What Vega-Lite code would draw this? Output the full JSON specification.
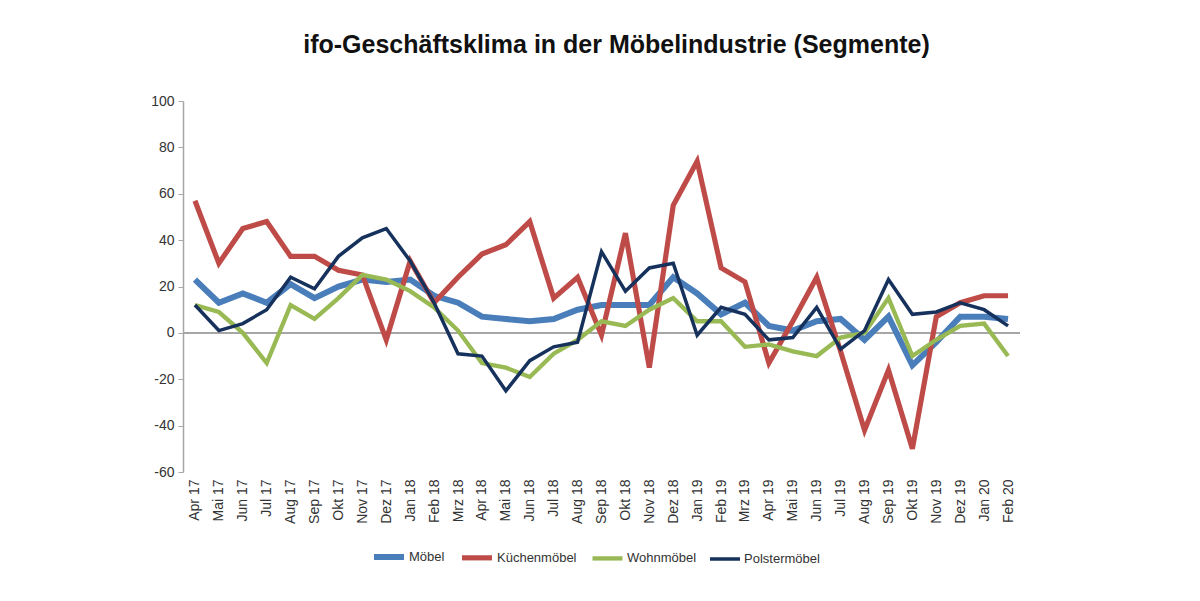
{
  "$schema": "https://vega.github.io/schema/vega-lite/v6.json",
  "width": 837,
  "height": 371,
  "autosize": "none",
  "padding": {"left": 183, "top": 101, "right": 180, "bottom": 129},
  "background": "white",
  "title": {
    "text": "ifo-Geschäftsklima in der Möbelindustrie (Segmente)",
    "font": "Liberation Sans",
    "fontSize": 25,
    "fontWeight": "bold",
    "color": "#111111",
    "anchor": "middle",
    "dx": 15,
    "offset": 36
  },
  "config": {
    "view": {"stroke": null},
    "font": "Liberation Sans"
  },
  "data": {
    "values": [
      {"m": "Apr 17", "Möbel": 23, "Küchenmöbel": 57, "Wohnmöbel": 12, "Polstermöbel": 12},
      {"m": "Mai 17", "Möbel": 13, "Küchenmöbel": 30, "Wohnmöbel": 9, "Polstermöbel": 1},
      {"m": "Jun 17", "Möbel": 17, "Küchenmöbel": 45, "Wohnmöbel": 0, "Polstermöbel": 4},
      {"m": "Jul 17", "Möbel": 13, "Küchenmöbel": 48, "Wohnmöbel": -13, "Polstermöbel": 10},
      {"m": "Aug 17", "Möbel": 21, "Küchenmöbel": 33, "Wohnmöbel": 12, "Polstermöbel": 24},
      {"m": "Sep 17", "Möbel": 15, "Küchenmöbel": 33, "Wohnmöbel": 6, "Polstermöbel": 19},
      {"m": "Okt 17", "Möbel": 20, "Küchenmöbel": 27, "Wohnmöbel": 15, "Polstermöbel": 33},
      {"m": "Nov 17", "Möbel": 23, "Küchenmöbel": 25, "Wohnmöbel": 25, "Polstermöbel": 41},
      {"m": "Dez 17", "Möbel": 22, "Küchenmöbel": -3, "Wohnmöbel": 23, "Polstermöbel": 45},
      {"m": "Jan 18", "Möbel": 23, "Küchenmöbel": 31, "Wohnmöbel": 18, "Polstermöbel": 31},
      {"m": "Feb 18", "Möbel": 16, "Küchenmöbel": 13, "Wohnmöbel": 11, "Polstermöbel": 13},
      {"m": "Mrz 18", "Möbel": 13, "Küchenmöbel": 24, "Wohnmöbel": 1, "Polstermöbel": -9},
      {"m": "Apr 18", "Möbel": 7, "Küchenmöbel": 34, "Wohnmöbel": -13, "Polstermöbel": -10},
      {"m": "Mai 18", "Möbel": 6, "Küchenmöbel": 38, "Wohnmöbel": -15, "Polstermöbel": -25},
      {"m": "Jun 18", "Möbel": 5, "Küchenmöbel": 48, "Wohnmöbel": -19, "Polstermöbel": -12},
      {"m": "Jul 18", "Möbel": 6, "Küchenmöbel": 15, "Wohnmöbel": -9, "Polstermöbel": -6},
      {"m": "Aug 18", "Möbel": 10, "Küchenmöbel": 24, "Wohnmöbel": -3, "Polstermöbel": -4},
      {"m": "Sep 18", "Möbel": 12, "Küchenmöbel": -1, "Wohnmöbel": 5, "Polstermöbel": 35},
      {"m": "Okt 18", "Möbel": 12, "Küchenmöbel": 43, "Wohnmöbel": 3, "Polstermöbel": 18},
      {"m": "Nov 18", "Möbel": 12, "Küchenmöbel": -15, "Wohnmöbel": 10, "Polstermöbel": 28},
      {"m": "Dez 18", "Möbel": 24, "Küchenmöbel": 55, "Wohnmöbel": 15, "Polstermöbel": 30},
      {"m": "Jan 19", "Möbel": 17, "Küchenmöbel": 74, "Wohnmöbel": 5, "Polstermöbel": -1},
      {"m": "Feb 19", "Möbel": 8, "Küchenmöbel": 28, "Wohnmöbel": 5, "Polstermöbel": 11},
      {"m": "Mrz 19", "Möbel": 13, "Küchenmöbel": 22, "Wohnmöbel": -6, "Polstermöbel": 8},
      {"m": "Apr 19", "Möbel": 3, "Küchenmöbel": -13, "Wohnmöbel": -5, "Polstermöbel": -3},
      {"m": "Mai 19", "Möbel": 1, "Küchenmöbel": 5, "Wohnmöbel": -8, "Polstermöbel": -2},
      {"m": "Jun 19", "Möbel": 5, "Küchenmöbel": 24, "Wohnmöbel": -10, "Polstermöbel": 11},
      {"m": "Jul 19", "Möbel": 6, "Küchenmöbel": -8, "Wohnmöbel": -2, "Polstermöbel": -7},
      {"m": "Aug 19", "Möbel": -3, "Küchenmöbel": -42, "Wohnmöbel": 0, "Polstermöbel": 1},
      {"m": "Sep 19", "Möbel": 7, "Küchenmöbel": -16, "Wohnmöbel": 15, "Polstermöbel": 23},
      {"m": "Okt 19", "Möbel": -14, "Küchenmöbel": -50, "Wohnmöbel": -10, "Polstermöbel": 8},
      {"m": "Nov 19", "Möbel": -4, "Küchenmöbel": 7, "Wohnmöbel": -3, "Polstermöbel": 9},
      {"m": "Dez 19", "Möbel": 7, "Küchenmöbel": 13, "Wohnmöbel": 3, "Polstermöbel": 13},
      {"m": "Jan 20", "Möbel": 7, "Küchenmöbel": 16, "Wohnmöbel": 4, "Polstermöbel": 10},
      {"m": "Feb 20", "Möbel": 6, "Küchenmöbel": 16, "Wohnmöbel": -10, "Polstermöbel": 3}
    ]
  },
  "layer": [
    {
      "mark": {"type": "rule", "color": "#a6a6a6", "strokeWidth": 1.5},
      "encoding": {
        "y": {"datum": 0, "type": "quantitative", "scale": {"domain": [-60, 100]}}
      }
    },
    {
      "transform": [
        {"fold": ["Möbel", "Küchenmöbel", "Wohnmöbel", "Polstermöbel"], "as": ["s", "v"]}
      ],
      "mark": {"type": "line", "strokeJoin": "miter", "strokeCap": "butt"},
      "encoding": {
        "x": {
          "field": "m",
          "type": "ordinal",
          "sort": null,
          "scale": {"type": "point", "padding": 0.5},
          "axis": {
            "title": null,
            "domain": false,
            "ticks": false,
            "labelAngle": -90,
            "labelAlign": "right",
            "labelBaseline": "middle",
            "labelFont": "Liberation Sans",
            "labelFontSize": 14,
            "labelColor": "#333333",
            "labelPadding": 7
          }
        },
        "y": {
          "field": "v",
          "type": "quantitative",
          "scale": {"domain": [-60, 100], "nice": false},
          "axis": {
            "title": null,
            "values": [-60, -40, -20, 0, 20, 40, 60, 80, 100],
            "labelExpr": "'' + datum.value",
            "grid": false,
            "domainColor": "#a6a6a6",
            "domainWidth": 1.5,
            "tickColor": "#a6a6a6",
            "tickSize": 5,
            "labelFont": "Liberation Sans",
            "labelFontSize": 14,
            "labelColor": "#333333",
            "labelPadding": 4
          }
        },
        "color": {
          "field": "s",
          "type": "nominal",
          "scale": {
            "domain": ["Möbel", "Küchenmöbel", "Wohnmöbel", "Polstermöbel"],
            "range": ["#4a7ebb", "#be4b48", "#98b954", "#16325c"]
          },
          "legend": {
            "title": null,
            "orient": "none",
            "direction": "horizontal",
            "legendX": 188,
            "legendY": 438,
            "symbolType": "stroke",
            "symbolStrokeWidth": 4,
            "symbolSize": 900,
            "labelFont": "Liberation Sans",
            "labelFontSize": 13,
            "labelColor": "#333333",
            "labelOffset": 2,
            "columnPadding": 6
          }
        },
        "strokeWidth": {
          "field": "s",
          "type": "nominal",
          "scale": {
            "domain": ["Möbel", "Küchenmöbel", "Wohnmöbel", "Polstermöbel"],
            "range": [6, 3.5, 3.5, 3.8]
          },
          "legend": null
        },
        "order": {"field": "s", "type": "nominal"}
      }
    }
  ]
}
